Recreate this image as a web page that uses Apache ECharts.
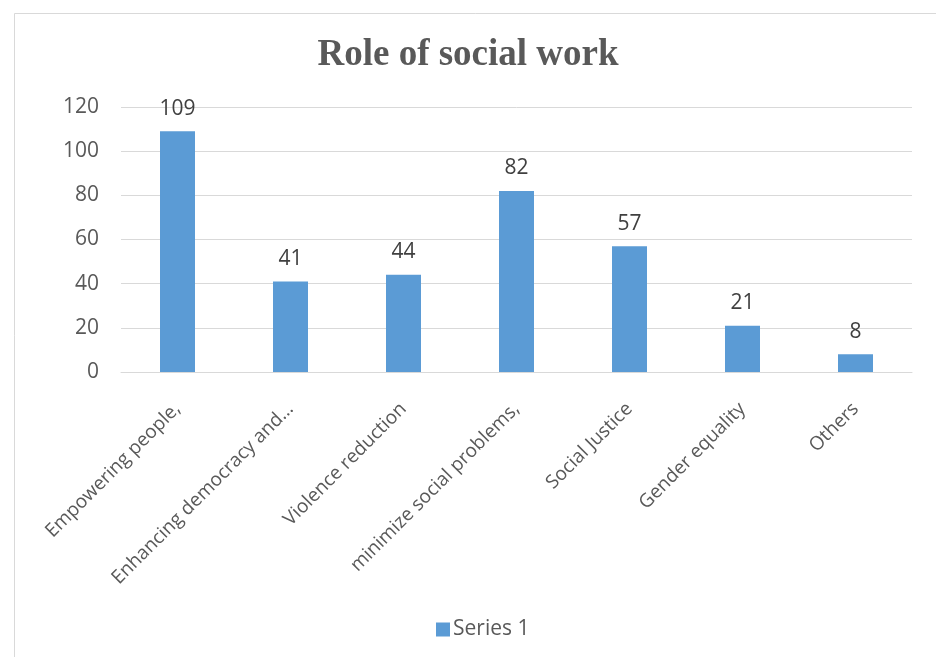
<!DOCTYPE html>
<html>
<head>
<meta charset="utf-8">
<script src="https://cdn.jsdelivr.net/npm/echarts@6/dist/echarts.min.js"></script>
<style>
html,body{margin:0;padding:0;background:#fff;}
#c{width:936px;height:657px;}
</style>
</head>
<body>
<div id="c"></div>
<script>
const categories = ["Empowering people,", "Enhancing democracy and…", "Violence reduction", "minimize social problems,", "Social Justice", "Gender equality", "Others"];
const values = [109, 41, 44, 82, 57, 21, 8];
const yTicks = {min: 0, max: 120, interval: 20};

const chart = echarts.init(document.getElementById('c'), null, {renderer: 'canvas'});
const font = "'Open Sans', 'Noto Sans', sans-serif";
chart.setOption({
  animation: false,
  backgroundColor: '#fff',
  graphic: [{
    type: 'rect', left: 12, top: 11, silent: true,
    shape: {width: 940, height: 660},
    style: {fill: 'none', stroke: '#d9d9d9', lineWidth: 1}
  }],
  title: {
    text: 'Role of social work', left: 'center', top: 32,
    textStyle: {fontFamily: "'Liberation Serif', 'DejaVu Serif', serif", fontWeight: 'bold', fontSize: 37, color: '#595959'}
  },
  legend: {
    bottom: 12, left: 431, itemWidth: 14, itemHeight: 14, itemGap: 4,
    icon: 'rect',
    textStyle: {fontFamily: font, fontSize: 21, color: '#595959', padding: [0, 0, 0, -2]},
    data: ['Series 1']
  },
  grid: {left: 121, right: 24, top: 107, bottom: 285, containLabel: false},
  xAxis: {
    type: 'category', data: categories,
    axisLine: {lineStyle: {color: '#d9d9d9'}},
    axisTick: {show: false},
    axisLabel: {rotate: 45, interval: 0, margin: 34, fontFamily: font, fontSize: 19, color: '#595959'}
  },
  yAxis: {
    type: 'value', min: yTicks.min, max: yTicks.max, interval: yTicks.interval,
    axisLine: {show: false}, axisTick: {show: false},
    splitLine: {lineStyle: {color: '#d9d9d9'}},
    axisLabel: {margin: 22, fontFamily: font, fontSize: 21, color: '#595959'}
  },
  series: [{
    name: 'Series 1', type: 'bar', data: values, barWidth: 35,
    itemStyle: {color: '#5b9bd5'},
    label: {show: true, position: 'top', distance: 12, fontFamily: font, fontSize: 21, color: '#404040'}
  }]
});
</script>
</body>
</html>
